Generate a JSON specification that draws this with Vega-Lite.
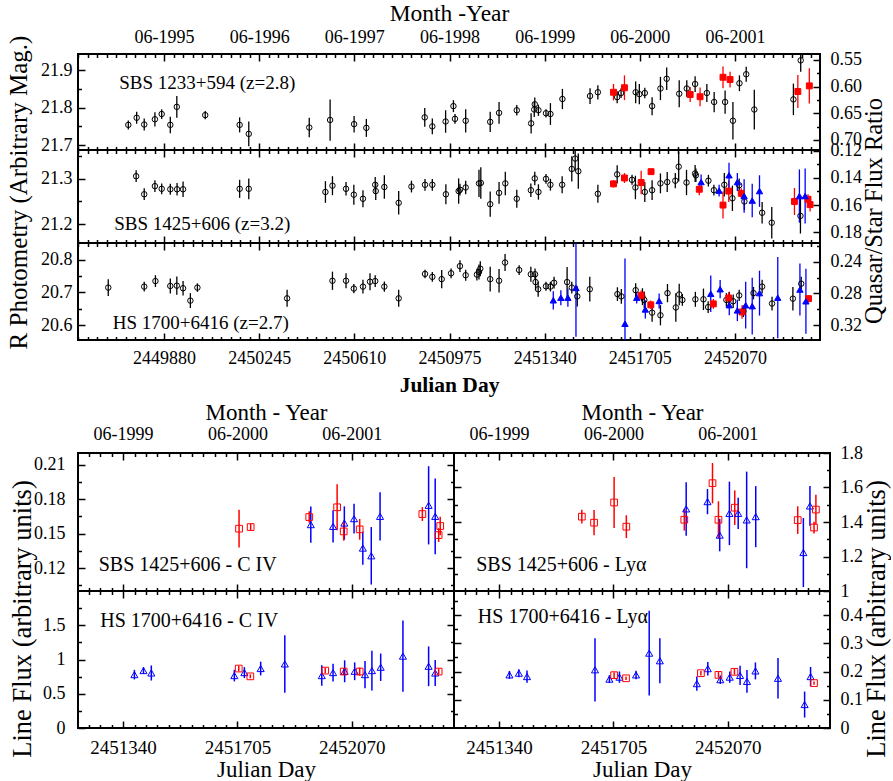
{
"$schema": "https://vega.github.io/schema/vega-lite/v6.json",
"padding": {"left": 5, "top": 0, "right": 0, "bottom": 0},
"datasets": {
"p1": [
{"j":2449743,"v":21.754,"e":0.012,"s":"K"},{"j":2449775,"v":21.773,"e":0.016,"s":"K"},{"j":2449804,"v":21.755,"e":0.016,"s":"K"},{"j":2449845,"v":21.769,"e":0.019,"s":"K"},{"j":2449871,"v":21.783,"e":0.013,"s":"K"},{"j":2449904,"v":21.754,"e":0.022,"s":"K"},{"j":2449929,"v":21.802,"e":0.029,"s":"K"},{"j":2450038,"v":21.780,"e":0.011,"s":"K"},{"j":2450170,"v":21.754,"e":0.02,"s":"K"},{"j":2450205,"v":21.730,"e":0.033,"s":"K"},{"j":2450437,"v":21.747,"e":0.026,"s":"K"},{"j":2450517,"v":21.767,"e":0.055,"s":"K"},{"j":2450609,"v":21.756,"e":0.022,"s":"K"},{"j":2450656,"v":21.746,"e":0.024,"s":"K"},{"j":2450880,"v":21.774,"e":0.025,"s":"K"},{"j":2450909,"v":21.750,"e":0.021,"s":"K"},{"j":2450960,"v":21.763,"e":0.03,"s":"K"},{"j":2450990,"v":21.804,"e":0.016,"s":"K"},{"j":2450996,"v":21.770,"e":0.013,"s":"K"},{"j":2451037,"v":21.765,"e":0.031,"s":"K"},{"j":2451131,"v":21.762,"e":0.027,"s":"K"},{"j":2451165,"v":21.786,"e":0.029,"s":"K"},{"j":2451233,"v":21.793,"e":0.014,"s":"K"},{"j":2451288,"v":21.758,"e":0.027,"s":"K"},{"j":2451302,"v":21.809,"e":0.018,"s":"K"},{"j":2451300,"v":21.795,"e":0.02,"s":"K"},{"j":2451316,"v":21.793,"e":0.015,"s":"K"},{"j":2451345,"v":21.785,"e":0.011,"s":"K"},{"j":2451362,"v":21.783,"e":0.029,"s":"K"},{"j":2451408,"v":21.823,"e":0.027,"s":"K"},{"j":2451514,"v":21.831,"e":0.021,"s":"K"},{"j":2451544,"v":21.841,"e":0.019,"s":"K"},{"j":2451618,"v":21.828,"e":0.016,"s":"K"},{"j":2451633,"v":21.839,"e":0.013,"s":"K"},{"j":2451689,"v":21.841,"e":0.029,"s":"K"},{"j":2451703,"v":21.836,"e":0.027,"s":"K"},{"j":2451724,"v":21.839,"e":0.014,"s":"K"},{"j":2451752,"v":21.804,"e":0.024,"s":"K"},{"j":2451784,"v":21.851,"e":0.031,"s":"K"},{"j":2451808,"v":21.877,"e":0.03,"s":"K"},{"j":2451856,"v":21.837,"e":0.036,"s":"K"},{"j":2451885,"v":21.851,"e":0.022,"s":"K"},{"j":2451917,"v":21.863,"e":0.021,"s":"K"},{"j":2451962,"v":21.839,"e":0.024,"s":"K"},{"j":2451990,"v":21.815,"e":0.027,"s":"K"},{"j":2452032,"v":21.815,"e":0.031,"s":"K"},{"j":2452062,"v":21.765,"e":0.05,"s":"K"},{"j":2452087,"v":21.865,"e":0.021,"s":"K"},{"j":2452113,"v":21.889,"e":0.02,"s":"K"},{"j":2452144,"v":21.795,"e":0.053,"s":"K"},{"j":2452294,"v":21.822,"e":0.042,"s":"K"},{"j":2452322,"v":21.926,"e":0.03,"s":"K"},
{"j":2451604,"v":21.841,"e":0.022,"s":"R"},{"j":2451646,"v":21.853,"e":0.033,"s":"R"},{"j":2451898,"v":21.835,"e":0.02,"s":"R"},{"j":2451936,"v":21.829,"e":0.025,"s":"R"},{"j":2452024,"v":21.881,"e":0.029,"s":"R"},{"j":2452051,"v":21.875,"e":0.021,"s":"R"},{"j":2452311,"v":21.843,"e":0.044,"s":"R"},{"j":2452355,"v":21.858,"e":0.047,"s":"R"}
],
"p2": [
{"j":2449773,"v":21.306,"e":0.013,"s":"K"},{"j":2449804,"v":21.266,"e":0.013,"s":"K"},{"j":2449845,"v":21.284,"e":0.013,"s":"K"},{"j":2449871,"v":21.278,"e":0.012,"s":"K"},{"j":2449904,"v":21.277,"e":0.012,"s":"K"},{"j":2449930,"v":21.277,"e":0.014,"s":"K"},{"j":2449953,"v":21.277,"e":0.017,"s":"K"},{"j":2450170,"v":21.278,"e":0.02,"s":"K"},{"j":2450205,"v":21.278,"e":0.023,"s":"K"},{"j":2450499,"v":21.271,"e":0.024,"s":"K"},{"j":2450526,"v":21.285,"e":0.021,"s":"K"},{"j":2450578,"v":21.278,"e":0.015,"s":"K"},{"j":2450608,"v":21.265,"e":0.022,"s":"K"},{"j":2450643,"v":21.256,"e":0.019,"s":"K"},{"j":2450690,"v":21.287,"e":0.017,"s":"K"},{"j":2450692,"v":21.273,"e":0.02,"s":"K"},{"j":2450725,"v":21.282,"e":0.026,"s":"K"},{"j":2450780,"v":21.247,"e":0.026,"s":"K"},{"j":2450829,"v":21.283,"e":0.013,"s":"K"},{"j":2450881,"v":21.287,"e":0.013,"s":"K"},{"j":2450909,"v":21.287,"e":0.013,"s":"K"},{"j":2450961,"v":21.266,"e":0.022,"s":"K"},{"j":2451010,"v":21.273,"e":0.028,"s":"K"},{"j":2451015,"v":21.276,"e":0.013,"s":"K"},{"j":2451037,"v":21.281,"e":0.015,"s":"K"},{"j":2451088,"v":21.290,"e":0.03,"s":"K"},{"j":2451095,"v":21.291,"e":0.035,"s":"K"},{"j":2451131,"v":21.244,"e":0.028,"s":"K"},{"j":2451165,"v":21.269,"e":0.024,"s":"K"},{"j":2451189,"v":21.290,"e":0.026,"s":"K"},{"j":2451233,"v":21.256,"e":0.02,"s":"K"},{"j":2451287,"v":21.275,"e":0.015,"s":"K"},{"j":2451302,"v":21.301,"e":0.015,"s":"K"},{"j":2451316,"v":21.271,"e":0.017,"s":"K"},{"j":2451345,"v":21.300,"e":0.011,"s":"K"},{"j":2451362,"v":21.287,"e":0.013,"s":"K"},{"j":2451407,"v":21.287,"e":0.019,"s":"K"},{"j":2451444,"v":21.322,"e":0.028,"s":"K"},{"j":2451457,"v":21.345,"e":0.028,"s":"K"},{"j":2451469,"v":21.317,"e":0.039,"s":"K"},{"j":2451544,"v":21.267,"e":0.02,"s":"K"},{"j":2451618,"v":21.310,"e":0.02,"s":"K"},{"j":2451675,"v":21.298,"e":0.011,"s":"K"},{"j":2451688,"v":21.281,"e":0.026,"s":"K"},{"j":2451724,"v":21.271,"e":0.022,"s":"K"},{"j":2451752,"v":21.275,"e":0.022,"s":"K"},{"j":2451784,"v":21.290,"e":0.022,"s":"K"},{"j":2451810,"v":21.293,"e":0.022,"s":"K"},{"j":2451841,"v":21.296,"e":0.017,"s":"K"},{"j":2451854,"v":21.327,"e":0.033,"s":"K"},{"j":2451884,"v":21.292,"e":0.028,"s":"K"},{"j":2451917,"v":21.312,"e":0.019,"s":"K"},{"j":2451920,"v":21.308,"e":0.015,"s":"K"},{"j":2451968,"v":21.296,"e":0.013,"s":"K"},{"j":2451989,"v":21.275,"e":0.012,"s":"K"},{"j":2452029,"v":21.287,"e":0.026,"s":"K"},{"j":2452060,"v":21.257,"e":0.028,"s":"K"},{"j":2452086,"v":21.286,"e":0.015,"s":"K"},{"j":2452106,"v":21.250,"e":0.019,"s":"K"},{"j":2452174,"v":21.225,"e":0.024,"s":"K"},{"j":2452211,"v":21.203,"e":0.035,"s":"K"},{"j":2452321,"v":21.218,"e":0.039,"s":"K"},
{"j":2451604,"v":21.289,"e":0.008,"s":"R"},{"j":2451646,"v":21.302,"e":0.011,"s":"R"},{"j":2451710,"v":21.292,"e":0.026,"s":"R"},{"j":2451748,"v":21.316,"e":0.006,"s":"R"},{"j":2451933,"v":21.277,"e":0.013,"s":"R"},{"j":2452024,"v":21.242,"e":0.03,"s":"R"},{"j":2452046,"v":21.273,"e":0.024,"s":"R"},{"j":2452094,"v":21.268,"e":0.011,"s":"R"},{"j":2452298,"v":21.250,"e":0.03,"s":"R"},{"j":2452350,"v":21.255,"e":0.011,"s":"R"},{"j":2452358,"v":21.243,"e":0.015,"s":"R"},
{"j":2451940,"v":21.293,"e":0.017,"s":"B"},{"j":2452009,"v":21.274,"e":0.013,"s":"B"},{"j":2452047,"v":21.308,"e":0.028,"s":"B"},{"j":2452079,"v":21.293,"e":0.02,"s":"B"},{"j":2452105,"v":21.262,"e":0.037,"s":"B"},{"j":2452136,"v":21.252,"e":0.037,"s":"B"},{"j":2452164,"v":21.273,"e":0.035,"s":"B"},{"j":2452317,"v":21.262,"e":0.059,"s":"B"},{"j":2452339,"v":21.262,"e":0.061,"s":"B"}
],
"p3": [
{"j":2449666,"v":20.715,"e":0.026,"s":"K"},{"j":2449804,"v":20.718,"e":0.015,"s":"K"},{"j":2449847,"v":20.735,"e":0.018,"s":"K"},{"j":2449904,"v":20.720,"e":0.023,"s":"K"},{"j":2449929,"v":20.721,"e":0.028,"s":"K"},{"j":2449953,"v":20.713,"e":0.022,"s":"K"},{"j":2449981,"v":20.675,"e":0.023,"s":"K"},{"j":2450008,"v":20.715,"e":0.013,"s":"K"},{"j":2450352,"v":20.682,"e":0.026,"s":"K"},{"j":2450526,"v":20.736,"e":0.028,"s":"K"},{"j":2450578,"v":20.736,"e":0.023,"s":"K"},{"j":2450608,"v":20.712,"e":0.014,"s":"K"},{"j":2450643,"v":20.718,"e":0.021,"s":"K"},{"j":2450670,"v":20.733,"e":0.026,"s":"K"},{"j":2450690,"v":20.735,"e":0.018,"s":"K"},{"j":2450725,"v":20.718,"e":0.016,"s":"K"},{"j":2450780,"v":20.682,"e":0.026,"s":"K"},{"j":2450881,"v":20.757,"e":0.013,"s":"K"},{"j":2450909,"v":20.748,"e":0.015,"s":"K"},{"j":2450945,"v":20.741,"e":0.028,"s":"K"},{"j":2450981,"v":20.759,"e":0.015,"s":"K"},{"j":2451015,"v":20.781,"e":0.018,"s":"K"},{"j":2451037,"v":20.753,"e":0.017,"s":"K"},{"j":2451080,"v":20.755,"e":0.018,"s":"K"},{"j":2451088,"v":20.763,"e":0.023,"s":"K"},{"j":2451093,"v":20.773,"e":0.023,"s":"K"},{"j":2451131,"v":20.741,"e":0.038,"s":"K"},{"j":2451165,"v":20.736,"e":0.036,"s":"K"},{"j":2451188,"v":20.792,"e":0.026,"s":"K"},{"j":2451242,"v":20.769,"e":0.015,"s":"K"},{"j":2451287,"v":20.756,"e":0.023,"s":"K"},{"j":2451303,"v":20.756,"e":0.018,"s":"K"},{"j":2451305,"v":20.732,"e":0.026,"s":"K"},{"j":2451315,"v":20.710,"e":0.023,"s":"K"},{"j":2451345,"v":20.719,"e":0.014,"s":"K"},{"j":2451362,"v":20.718,"e":0.015,"s":"K"},{"j":2451376,"v":20.730,"e":0.018,"s":"K"},{"j":2451426,"v":20.732,"e":0.046,"s":"K"},{"j":2451444,"v":20.715,"e":0.018,"s":"K"},{"j":2451465,"v":20.688,"e":0.031,"s":"K"},{"j":2451513,"v":20.710,"e":0.038,"s":"K"},{"j":2451619,"v":20.695,"e":0.021,"s":"K"},{"j":2451634,"v":20.688,"e":0.023,"s":"K"},{"j":2451689,"v":20.707,"e":0.021,"s":"K"},{"j":2451715,"v":20.687,"e":0.026,"s":"K"},{"j":2451722,"v":20.677,"e":0.026,"s":"K"},{"j":2451752,"v":20.638,"e":0.028,"s":"K"},{"j":2451784,"v":20.630,"e":0.031,"s":"K"},{"j":2451811,"v":20.698,"e":0.028,"s":"K"},{"j":2451843,"v":20.654,"e":0.044,"s":"K"},{"j":2451856,"v":20.694,"e":0.033,"s":"K"},{"j":2451868,"v":20.677,"e":0.018,"s":"K"},{"j":2451918,"v":20.679,"e":0.023,"s":"K"},{"j":2451949,"v":20.679,"e":0.033,"s":"K"},{"j":2451967,"v":20.655,"e":0.018,"s":"K"},{"j":2452037,"v":20.677,"e":0.021,"s":"K"},{"j":2452048,"v":20.681,"e":0.021,"s":"K"},{"j":2452063,"v":20.673,"e":0.021,"s":"K"},{"j":2452086,"v":20.691,"e":0.017,"s":"K"},{"j":2452102,"v":20.643,"e":0.018,"s":"K"},{"j":2452141,"v":20.698,"e":0.019,"s":"K"},{"j":2452174,"v":20.718,"e":0.021,"s":"K"},{"j":2452212,"v":20.666,"e":0.021,"s":"K"},{"j":2452292,"v":20.681,"e":0.036,"s":"K"},{"j":2452324,"v":20.727,"e":0.021,"s":"K"},
{"j":2451710,"v":20.691,"e":0.015,"s":"R"},{"j":2451747,"v":20.662,"e":0.013,"s":"R"},{"j":2451987,"v":20.665,"e":0.015,"s":"R"},{"j":2452046,"v":20.683,"e":0.018,"s":"R"},{"j":2452097,"v":20.640,"e":0.021,"s":"R"},{"j":2452352,"v":20.681,"e":0.01,"s":"R"},
{"j":2451373,"v":20.676,"e":0.028,"s":"B"},{"j":2451402,"v":20.684,"e":0.023,"s":"B"},{"j":2451429,"v":20.684,"e":0.028,"s":"B"},{"j":2451460,"v":20.714,"e":0.15,"s":"B"},{"j":2451648,"v":20.604,"e":0.2,"s":"B"},{"j":2451693,"v":20.684,"e":0.018,"s":"B"},{"j":2451726,"v":20.648,"e":0.028,"s":"B"},{"j":2451779,"v":20.674,"e":0.023,"s":"B"},{"j":2451977,"v":20.696,"e":0.056,"s":"B"},{"j":2452013,"v":20.710,"e":0.028,"s":"B"},{"j":2452048,"v":20.661,"e":0.031,"s":"B"},{"j":2452079,"v":20.645,"e":0.033,"s":"B"},{"j":2452111,"v":20.661,"e":0.072,"s":"B"},{"j":2452136,"v":20.658,"e":0.087,"s":"B"},{"j":2452164,"v":20.698,"e":0.069,"s":"B"},{"j":2452234,"v":20.684,"e":0.125,"s":"B"},{"j":2452319,"v":20.709,"e":0.08,"s":"B"},{"j":2452342,"v":20.673,"e":0.1,"s":"B"}
],
"c1": [
{"j":2451939,"v":0.1577,"e":0.0157,"s":"b"},{"j":2452010,"v":0.1562,"e":0.014,"s":"b"},{"j":2452046,"v":0.1591,"e":0.0145,"s":"b"},{"j":2452077,"v":0.1629,"e":0.013,"s":"b"},{"j":2452105,"v":0.1373,"e":0.0145,"s":"b"},{"j":2452132,"v":0.1306,"e":0.025,"s":"b"},{"j":2452160,"v":0.1649,"e":0.021,"s":"b"},{"j":2452315,"v":0.1745,"e":0.034,"s":"b"},{"j":2452336,"v":0.1649,"e":0.033,"s":"b"},
{"j":2451710,"v":0.1542,"e":0.0164,"s":"r"},{"j":2451747,"v":0.1556,"e":0.003,"s":"r"},{"j":2451934,"v":0.1643,"e":0.005,"s":"r"},{"j":2452023,"v":0.1728,"e":0.02,"s":"r"},{"j":2452044,"v":0.1518,"e":0.008,"s":"r"},{"j":2452095,"v":0.1536,"e":0.009,"s":"r"},{"j":2452295,"v":0.1669,"e":0.006,"s":"r"},{"j":2452347,"v":0.1486,"e":0.006,"s":"r"},{"j":2452352,"v":0.1565,"e":0.008,"s":"r"}
],
"c2": [
{"j":2451376,"v":0.779,"e":0.07,"s":"b"},{"j":2451405,"v":0.838,"e":0.05,"s":"b"},{"j":2451430,"v":0.803,"e":0.11,"s":"b"},{"j":2451695,"v":0.765,"e":0.085,"s":"b"},{"j":2451727,"v":0.809,"e":0.08,"s":"b"},{"j":2451779,"v":0.868,"e":0.1,"s":"b"},{"j":2451856,"v":0.935,"e":0.42,"s":"b"},{"j":2451974,"v":0.765,"e":0.15,"s":"b"},{"j":2452010,"v":0.809,"e":0.13,"s":"b"},{"j":2452047,"v":0.828,"e":0.16,"s":"b"},{"j":2452079,"v":0.828,"e":0.13,"s":"b"},{"j":2452112,"v":0.779,"e":0.2,"s":"b"},{"j":2452134,"v":0.838,"e":0.29,"s":"b"},{"j":2452162,"v":0.887,"e":0.2,"s":"b"},{"j":2452233,"v":1.049,"e":0.52,"s":"b"},{"j":2452315,"v":0.901,"e":0.29,"s":"b"},{"j":2452336,"v":0.803,"e":0.19,"s":"b"},
{"j":2451709,"v":0.868,"e":0.04,"s":"r"},{"j":2451746,"v":0.754,"e":0.03,"s":"r"},{"j":2451985,"v":0.838,"e":0.04,"s":"r"},{"j":2452044,"v":0.824,"e":0.05,"s":"r"},{"j":2452095,"v":0.824,"e":0.06,"s":"r"},{"j":2452347,"v":0.824,"e":0.04,"s":"r"}
],
"l1": [
{"j":2451937,"v":1.476,"e":0.155,"s":"b"},{"j":2452005,"v":1.518,"e":0.073,"s":"b"},{"j":2452044,"v":1.324,"e":0.094,"s":"b"},{"j":2452075,"v":1.450,"e":0.184,"s":"b"},{"j":2452103,"v":1.450,"e":0.09,"s":"b"},{"j":2452130,"v":1.412,"e":0.28,"s":"b"},{"j":2452159,"v":1.431,"e":0.177,"s":"b"},{"j":2452311,"v":1.223,"e":0.2,"s":"b"},{"j":2452332,"v":1.493,"e":0.115,"s":"b"},
{"j":2451604,"v":1.431,"e":0.04,"s":"r"},{"j":2451643,"v":1.396,"e":0.073,"s":"r"},{"j":2451707,"v":1.513,"e":0.148,"s":"r"},{"j":2451746,"v":1.373,"e":0.066,"s":"r"},{"j":2451931,"v":1.413,"e":0.063,"s":"r"},{"j":2452021,"v":1.625,"e":0.117,"s":"r"},{"j":2452040,"v":1.413,"e":0.107,"s":"r"},{"j":2452092,"v":1.483,"e":0.1,"s":"r"},{"j":2452293,"v":1.411,"e":0.08,"s":"r"},{"j":2452345,"v":1.368,"e":0.034,"s":"r"},{"j":2452351,"v":1.472,"e":0.086,"s":"r"}
],
"l2": [
{"j":2451373,"v":0.188,"e":0.014,"s":"b"},{"j":2451403,"v":0.194,"e":0.014,"s":"b"},{"j":2451429,"v":0.182,"e":0.022,"s":"b"},{"j":2451646,"v":0.206,"e":0.112,"s":"b"},{"j":2451692,"v":0.173,"e":0.014,"s":"b"},{"j":2451724,"v":0.180,"e":0.02,"s":"b"},{"j":2451777,"v":0.188,"e":0.015,"s":"b"},{"j":2451819,"v":0.265,"e":0.15,"s":"b"},{"j":2451853,"v":0.238,"e":0.08,"s":"b"},{"j":2451971,"v":0.157,"e":0.025,"s":"b"},{"j":2452006,"v":0.210,"e":0.024,"s":"b"},{"j":2452046,"v":0.171,"e":0.015,"s":"b"},{"j":2452076,"v":0.180,"e":0.02,"s":"b"},{"j":2452109,"v":0.186,"e":0.034,"s":"b"},{"j":2452131,"v":0.165,"e":0.04,"s":"b"},{"j":2452158,"v":0.202,"e":0.03,"s":"b"},{"j":2452230,"v":0.176,"e":0.072,"s":"b"},{"j":2452315,"v":0.083,"e":0.046,"s":"b"},{"j":2452334,"v":0.182,"e":0.034,"s":"b"},
{"j":2451707,"v":0.187,"e":0.01,"s":"r"},{"j":2451745,"v":0.176,"e":0.006,"s":"r"},{"j":2451984,"v":0.194,"e":0.008,"s":"r"},{"j":2452040,"v":0.188,"e":0.01,"s":"r"},{"j":2452091,"v":0.199,"e":0.01,"s":"r"},{"j":2452345,"v":0.159,"e":0.006,"s":"r"}
]
},
"spacing": 3,
"resolve": {"scale": {"x": "independent", "y": "independent"}},
"vconcat": [
{
"vconcat": [
{
"width": 742, "height": 96, "data": {"name": "p1"},
"resolve": {"scale": {"x": "independent", "y": "independent"}},
"layer": [
{"mark": {"type": "errorbar", "ticks": false, "thickness": 1.3},
 "encoding": {"x": {"field": "j", "type": "quantitative", "scale": {"domain": [2449550, 2452396], "nice": false}, "axis": null},
  "y": {"field": "v", "type": "quantitative", "scale": {"domain": [21.687, 21.943], "nice": false, "clamp": true}, "axis": null},
  "yError": {"field": "e"},
  "color": {"field": "s", "type": "nominal", "scale": {"domain": ["K","R","B","r","b"], "range": ["#000000","#ff0000","#0000ff","#ff0000","#0000ff"]}, "legend": null}}},
{"mark": {"type": "point", "filled": true, "opacity": 1},
 "encoding": {"x": {"field": "j", "type": "quantitative", "scale": {"domain": [2449550, 2452396], "nice": false}, "axis": null},
  "y": {"field": "v", "type": "quantitative", "scale": {"domain": [21.687, 21.943], "nice": false, "clamp": true}, "axis": null},
  "shape": {"field": "s", "type": "nominal", "scale": {"domain": ["K","R","B","r","b"], "range": ["circle","square","triangle-up","square","triangle-up"]}, "legend": null},
  "fill": {"field": "s", "type": "nominal", "scale": {"domain": ["K","R","B","r","b"], "range": ["transparent","#ff0000","#0000ff","transparent","transparent"]}, "legend": null},
  "stroke": {"field": "s", "type": "nominal", "scale": {"domain": ["K","R","B","r","b"], "range": ["#000000","#ff0000","#0000ff","#ff0000","#0000ff"]}, "legend": null},
  "size": {"field": "s", "type": "nominal", "scale": {"domain": ["K","R","B","r","b"], "range": [30,50,60,28,45]}, "legend": null},
  "strokeWidth": {"field": "s", "type": "nominal", "scale": {"domain": ["K","R","B","r","b"], "range": [1,1,1,1.5,1.5]}, "legend": null}}},
{"data": {"values": [{}]}, "mark": {"type": "text", "align": "left", "baseline": "middle", "fontSize": 19, "font": "Liberation Serif", "color": "#000000", "text": "SBS 1233+594 (z=2.8)"},
 "encoding": {"x": {"datum": 2449708, "type": "quantitative", "scale": {"domain": [2449550, 2452396], "nice": false}, "axis": null},
  "y": {"datum": 21.865, "type": "quantitative", "scale": {"domain": [21.687, 21.943], "nice": false}, "axis": null}}},
{"data": {"values": [{}]}, "mark": {"type": "point", "opacity": 0},
 "encoding": {"x": {"datum": 2450000, "type": "quantitative", "scale": {"domain": [2449550, 2452396], "nice": false}, "axis": {"orient": "bottom", "values": [2449880,2450245,2450610,2450975,2451340,2451705,2452070], "tickSize": -7, "labels": false, "title": null}},
  "y": {"datum": 21.8, "type": "quantitative", "scale": {"domain": [21.687, 21.943], "nice": false}, "axis": {"orient": "left", "values": [21.7,21.8,21.9], "tickSize": -7, "labelPadding": 13, "format": ".1f", "title": null}}}},
{"data": {"values": [{}]}, "mark": {"type": "point", "opacity": 0},
 "encoding": {"x": {"datum": 2450000, "type": "quantitative", "scale": {"domain": [2449550, 2452396], "nice": false}, "axis": {"orient": "bottom", "values": [2449551.5,2449588,2449624.5,2449661,2449697.5,2449734,2449770.5,2449807,2449843.5,2449916.5,2449953,2449989.5,2450026,2450062.5,2450099,2450135.5,2450172,2450208.5,2450281.5,2450318,2450354.5,2450391,2450427.5,2450464,2450500.5,2450537,2450573.5,2450646.5,2450683,2450719.5,2450756,2450792.5,2450829,2450865.5,2450902,2450938.5,2451011.5,2451048,2451084.5,2451121,2451157.5,2451194,2451230.5,2451267,2451303.5,2451376.5,2451413,2451449.5,2451486,2451522.5,2451559,2451595.5,2451632,2451668.5,2451741.5,2451778,2451814.5,2451851,2451887.5,2451924,2451960.5,2451997,2452033.5,2452106.5,2452143,2452179.5,2452216,2452252.5,2452289,2452325.5,2452362], "tickSize": -3.5, "labels": false, "title": null}},
  "y": {"datum": 21.8, "type": "quantitative", "scale": {"domain": [21.687, 21.943], "nice": false}, "axis": {"orient": "left", "values": [21.75,21.85], "tickSize": -3.5, "labels": false, "title": null}}}},
{"data": {"values": [{}]}, "mark": {"type": "point", "opacity": 0},
 "encoding": {"x": {"datum": 2450000, "type": "quantitative", "scale": {"domain": [2449550, 2452396], "nice": false}, "axis": {"orient": "top", "values": [2449880,2450245,2450610,2450975,2451340,2451705,2452070], "tickSize": -7, "labelPadding": 15, "labelExpr": "'06-' + (1995 + round((datum.value - 2449880) / 365))", "title": "Month -Year", "titleFontSize": 23.5, "titlePadding": 3}},
  "y": {"datum": 0.6, "type": "quantitative", "scale": {"domain": [0.5389, 0.7188], "nice": false, "reverse": true}, "axis": {"orient": "right", "values": [0.55,0.6,0.65,0.7], "tickSize": -7, "labelPadding": 17, "format": ".2f", "title": null}}}},
{"data": {"values": [{}]}, "mark": {"type": "point", "opacity": 0},
 "encoding": {"x": {"datum": 2450000, "type": "quantitative", "scale": {"domain": [2449550, 2452396], "nice": false}, "axis": {"orient": "top", "values": [2449551.5,2449588,2449624.5,2449661,2449697.5,2449734,2449770.5,2449807,2449843.5,2449916.5,2449953,2449989.5,2450026,2450062.5,2450099,2450135.5,2450172,2450208.5,2450281.5,2450318,2450354.5,2450391,2450427.5,2450464,2450500.5,2450537,2450573.5,2450646.5,2450683,2450719.5,2450756,2450792.5,2450829,2450865.5,2450902,2450938.5,2451011.5,2451048,2451084.5,2451121,2451157.5,2451194,2451230.5,2451267,2451303.5,2451376.5,2451413,2451449.5,2451486,2451522.5,2451559,2451595.5,2451632,2451668.5,2451741.5,2451778,2451814.5,2451851,2451887.5,2451924,2451960.5,2451997,2452033.5,2452106.5,2452143,2452179.5,2452216,2452252.5,2452289,2452325.5,2452362], "tickSize": -3.5, "labels": false, "title": null}},
  "y": {"datum": 0.6, "type": "quantitative", "scale": {"domain": [0.5389, 0.7188], "nice": false, "reverse": true}, "axis": {"orient": "right", "values": [0.575,0.625,0.675], "tickSize": -3.5, "labels": false, "title": null}}}}
]
},
{
"width": 742, "height": 93, "data": {"name": "p2"},
"resolve": {"scale": {"x": "independent", "y": "independent"}},
"layer": [
{"mark": {"type": "errorbar", "ticks": false, "thickness": 1.3},
 "encoding": {"x": {"field": "j", "type": "quantitative", "scale": {"domain": [2449550, 2452396], "nice": false}, "axis": null},
  "y": {"field": "v", "type": "quantitative", "scale": {"domain": [21.158, 21.364], "nice": false, "clamp": true}, "axis": null},
  "yError": {"field": "e"},
  "color": {"field": "s", "type": "nominal", "scale": {"domain": ["K","R","B","r","b"], "range": ["#000000","#ff0000","#0000ff","#ff0000","#0000ff"]}, "legend": null}}},
{"mark": {"type": "point", "filled": true, "opacity": 1},
 "encoding": {"x": {"field": "j", "type": "quantitative", "scale": {"domain": [2449550, 2452396], "nice": false}, "axis": null},
  "y": {"field": "v", "type": "quantitative", "scale": {"domain": [21.158, 21.364], "nice": false, "clamp": true}, "axis": null},
  "shape": {"field": "s", "type": "nominal", "scale": {"domain": ["K","R","B","r","b"], "range": ["circle","square","triangle-up","square","triangle-up"]}, "legend": null},
  "fill": {"field": "s", "type": "nominal", "scale": {"domain": ["K","R","B","r","b"], "range": ["transparent","#ff0000","#0000ff","transparent","transparent"]}, "legend": null},
  "stroke": {"field": "s", "type": "nominal", "scale": {"domain": ["K","R","B","r","b"], "range": ["#000000","#ff0000","#0000ff","#ff0000","#0000ff"]}, "legend": null},
  "size": {"field": "s", "type": "nominal", "scale": {"domain": ["K","R","B","r","b"], "range": [30,50,60,28,45]}, "legend": null},
  "strokeWidth": {"field": "s", "type": "nominal", "scale": {"domain": ["K","R","B","r","b"], "range": [1,1,1,1.5,1.5]}, "legend": null}}},
{"data": {"values": [{}]}, "mark": {"type": "text", "align": "left", "baseline": "middle", "fontSize": 19, "font": "Liberation Serif", "color": "#000000", "text": "SBS 1425+606 (z=3.2)"},
 "encoding": {"x": {"datum": 2449689, "type": "quantitative", "scale": {"domain": [2449550, 2452396], "nice": false}, "axis": null},
  "y": {"datum": 21.2, "type": "quantitative", "scale": {"domain": [21.158, 21.364], "nice": false}, "axis": null}}},
{"data": {"values": [{}]}, "mark": {"type": "point", "opacity": 0},
 "encoding": {"x": {"datum": 2450000, "type": "quantitative", "scale": {"domain": [2449550, 2452396], "nice": false}, "axis": {"orient": "bottom", "values": [2449880,2450245,2450610,2450975,2451340,2451705,2452070], "tickSize": -7, "labels": false, "title": null}},
  "y": {"datum": 21.3, "type": "quantitative", "scale": {"domain": [21.158, 21.364], "nice": false}, "axis": {"orient": "left", "values": [21.2,21.3], "tickSize": -7, "labelPadding": 13, "format": ".1f", "title": "R Photometry (Arbitrary Mag.)", "titleFontSize": 25, "titlePadding": 9, "titleY": 42}}}},
{"data": {"values": [{}]}, "mark": {"type": "point", "opacity": 0},
 "encoding": {"x": {"datum": 2450000, "type": "quantitative", "scale": {"domain": [2449550, 2452396], "nice": false}, "axis": {"orient": "bottom", "values": [2449551.5,2449588,2449624.5,2449661,2449697.5,2449734,2449770.5,2449807,2449843.5,2449916.5,2449953,2449989.5,2450026,2450062.5,2450099,2450135.5,2450172,2450208.5,2450281.5,2450318,2450354.5,2450391,2450427.5,2450464,2450500.5,2450537,2450573.5,2450646.5,2450683,2450719.5,2450756,2450792.5,2450829,2450865.5,2450902,2450938.5,2451011.5,2451048,2451084.5,2451121,2451157.5,2451194,2451230.5,2451267,2451303.5,2451376.5,2451413,2451449.5,2451486,2451522.5,2451559,2451595.5,2451632,2451668.5,2451741.5,2451778,2451814.5,2451851,2451887.5,2451924,2451960.5,2451997,2452033.5,2452106.5,2452143,2452179.5,2452216,2452252.5,2452289,2452325.5,2452362], "tickSize": -3.5, "labels": false, "title": null}},
  "y": {"datum": 21.3, "type": "quantitative", "scale": {"domain": [21.158, 21.364], "nice": false}, "axis": {"orient": "left", "values": [21.25,21.35], "tickSize": -3.5, "labels": false, "title": null}}}},
{"data": {"values": [{}]}, "mark": {"type": "point", "opacity": 0},
 "encoding": {"x": {"datum": 2450000, "type": "quantitative", "scale": {"domain": [2449550, 2452396], "nice": false}, "axis": {"orient": "top", "values": [2449880,2450245,2450610,2450975,2451340,2451705,2452070], "tickSize": -7, "labels": false, "title": null}},
  "y": {"datum": 0.15, "type": "quantitative", "scale": {"domain": [0.1193, 0.1881], "nice": false, "reverse": true}, "axis": {"orient": "right", "values": [0.12,0.14,0.16,0.18], "tickSize": -7, "labelPadding": 17, "format": ".2f", "title": "Quasar/Star Flux Ratio", "titleFontSize": 24.5, "titleAngle": 270, "titleBaseline": "top", "titlePadding": 1, "titleY": 60.5}}}},
{"data": {"values": [{}]}, "mark": {"type": "point", "opacity": 0},
 "encoding": {"x": {"datum": 2450000, "type": "quantitative", "scale": {"domain": [2449550, 2452396], "nice": false}, "axis": {"orient": "top", "values": [2449551.5,2449588,2449624.5,2449661,2449697.5,2449734,2449770.5,2449807,2449843.5,2449916.5,2449953,2449989.5,2450026,2450062.5,2450099,2450135.5,2450172,2450208.5,2450281.5,2450318,2450354.5,2450391,2450427.5,2450464,2450500.5,2450537,2450573.5,2450646.5,2450683,2450719.5,2450756,2450792.5,2450829,2450865.5,2450902,2450938.5,2451011.5,2451048,2451084.5,2451121,2451157.5,2451194,2451230.5,2451267,2451303.5,2451376.5,2451413,2451449.5,2451486,2451522.5,2451559,2451595.5,2451632,2451668.5,2451741.5,2451778,2451814.5,2451851,2451887.5,2451924,2451960.5,2451997,2452033.5,2452106.5,2452143,2452179.5,2452216,2452252.5,2452289,2452325.5,2452362], "tickSize": -3.5, "labels": false, "title": null}},
  "y": {"datum": 0.15, "type": "quantitative", "scale": {"domain": [0.1193, 0.1881], "nice": false, "reverse": true}, "axis": {"orient": "right", "values": [0.13,0.15,0.17], "tickSize": -3.5, "labels": false, "title": null}}}}
]
},
{
"width": 742, "height": 97, "data": {"name": "p3"},
"resolve": {"scale": {"x": "independent", "y": "independent"}},
"layer": [
{"mark": {"type": "errorbar", "ticks": false, "thickness": 1.3},
 "encoding": {"x": {"field": "j", "type": "quantitative", "scale": {"domain": [2449550, 2452396], "nice": false}, "axis": null},
  "y": {"field": "v", "type": "quantitative", "scale": {"domain": [20.554, 20.852], "nice": false, "clamp": true}, "axis": null},
  "yError": {"field": "e"},
  "color": {"field": "s", "type": "nominal", "scale": {"domain": ["K","R","B","r","b"], "range": ["#000000","#ff0000","#0000ff","#ff0000","#0000ff"]}, "legend": null}}},
{"mark": {"type": "point", "filled": true, "opacity": 1},
 "encoding": {"x": {"field": "j", "type": "quantitative", "scale": {"domain": [2449550, 2452396], "nice": false}, "axis": null},
  "y": {"field": "v", "type": "quantitative", "scale": {"domain": [20.554, 20.852], "nice": false, "clamp": true}, "axis": null},
  "shape": {"field": "s", "type": "nominal", "scale": {"domain": ["K","R","B","r","b"], "range": ["circle","square","triangle-up","square","triangle-up"]}, "legend": null},
  "fill": {"field": "s", "type": "nominal", "scale": {"domain": ["K","R","B","r","b"], "range": ["transparent","#ff0000","#0000ff","transparent","transparent"]}, "legend": null},
  "stroke": {"field": "s", "type": "nominal", "scale": {"domain": ["K","R","B","r","b"], "range": ["#000000","#ff0000","#0000ff","#ff0000","#0000ff"]}, "legend": null},
  "size": {"field": "s", "type": "nominal", "scale": {"domain": ["K","R","B","r","b"], "range": [30,50,60,28,45]}, "legend": null},
  "strokeWidth": {"field": "s", "type": "nominal", "scale": {"domain": ["K","R","B","r","b"], "range": [1,1,1,1.5,1.5]}, "legend": null}}},
{"data": {"values": [{}]}, "mark": {"type": "text", "align": "left", "baseline": "middle", "fontSize": 19, "font": "Liberation Serif", "color": "#000000", "text": "HS 1700+6416 (z=2.7)"},
 "encoding": {"x": {"datum": 2449683, "type": "quantitative", "scale": {"domain": [2449550, 2452396], "nice": false}, "axis": null},
  "y": {"datum": 20.605, "type": "quantitative", "scale": {"domain": [20.554, 20.852], "nice": false}, "axis": null}}},
{"data": {"values": [{}]}, "mark": {"type": "point", "opacity": 0},
 "encoding": {"x": {"datum": 2450000, "type": "quantitative", "scale": {"domain": [2449550, 2452396], "nice": false}, "axis": {"orient": "bottom", "values": [2449880,2450245,2450610,2450975,2451340,2451705,2452070], "tickSize": -7, "labelPadding": 16, "format": "d", "title": "Julian Day", "titleFontWeight": "bold", "titleFontSize": 21.5, "titlePadding": 7}},
  "y": {"datum": 20.7, "type": "quantitative", "scale": {"domain": [20.554, 20.852], "nice": false}, "axis": {"orient": "left", "values": [20.6,20.7,20.8], "tickSize": -7, "labelPadding": 13, "format": ".1f", "title": null}}}},
{"data": {"values": [{}]}, "mark": {"type": "point", "opacity": 0},
 "encoding": {"x": {"datum": 2450000, "type": "quantitative", "scale": {"domain": [2449550, 2452396], "nice": false}, "axis": {"orient": "bottom", "values": [2449551.5,2449588,2449624.5,2449661,2449697.5,2449734,2449770.5,2449807,2449843.5,2449916.5,2449953,2449989.5,2450026,2450062.5,2450099,2450135.5,2450172,2450208.5,2450281.5,2450318,2450354.5,2450391,2450427.5,2450464,2450500.5,2450537,2450573.5,2450646.5,2450683,2450719.5,2450756,2450792.5,2450829,2450865.5,2450902,2450938.5,2451011.5,2451048,2451084.5,2451121,2451157.5,2451194,2451230.5,2451267,2451303.5,2451376.5,2451413,2451449.5,2451486,2451522.5,2451559,2451595.5,2451632,2451668.5,2451741.5,2451778,2451814.5,2451851,2451887.5,2451924,2451960.5,2451997,2452033.5,2452106.5,2452143,2452179.5,2452216,2452252.5,2452289,2452325.5,2452362], "tickSize": -3.5, "labels": false, "title": null}},
  "y": {"datum": 20.7, "type": "quantitative", "scale": {"domain": [20.554, 20.852], "nice": false}, "axis": {"orient": "left", "values": [20.65,20.75], "tickSize": -3.5, "labels": false, "title": null}}}},
{"data": {"values": [{}]}, "mark": {"type": "point", "opacity": 0},
 "encoding": {"x": {"datum": 2450000, "type": "quantitative", "scale": {"domain": [2449550, 2452396], "nice": false}, "axis": {"orient": "top", "values": [2449880,2450245,2450610,2450975,2451340,2451705,2452070], "tickSize": -7, "labels": false, "title": null}},
  "y": {"datum": 0.28, "type": "quantitative", "scale": {"domain": [0.216, 0.339], "nice": false, "reverse": true}, "axis": {"orient": "right", "values": [0.24,0.28,0.32], "tickSize": -7, "labelPadding": 17, "format": ".2f", "title": null}}}},
{"data": {"values": [{}]}, "mark": {"type": "point", "opacity": 0},
 "encoding": {"x": {"datum": 2450000, "type": "quantitative", "scale": {"domain": [2449550, 2452396], "nice": false}, "axis": {"orient": "top", "values": [2449551.5,2449588,2449624.5,2449661,2449697.5,2449734,2449770.5,2449807,2449843.5,2449916.5,2449953,2449989.5,2450026,2450062.5,2450099,2450135.5,2450172,2450208.5,2450281.5,2450318,2450354.5,2450391,2450427.5,2450464,2450500.5,2450537,2450573.5,2450646.5,2450683,2450719.5,2450756,2450792.5,2450829,2450865.5,2450902,2450938.5,2451011.5,2451048,2451084.5,2451121,2451157.5,2451194,2451230.5,2451267,2451303.5,2451376.5,2451413,2451449.5,2451486,2451522.5,2451559,2451595.5,2451632,2451668.5,2451741.5,2451778,2451814.5,2451851,2451887.5,2451924,2451960.5,2451997,2452033.5,2452106.5,2452143,2452179.5,2452216,2452252.5,2452289,2452325.5,2452362], "tickSize": -3.5, "labels": false, "title": null}},
  "y": {"datum": 0.28, "type": "quantitative", "scale": {"domain": [0.216, 0.339], "nice": false, "reverse": true}, "axis": {"orient": "right", "values": [0.22,0.26,0.30], "tickSize": -3.5, "labels": false, "title": null}}}}
]
}
],
"spacing": 0, "bounds": "flush",
"resolve": {"scale": {"x": "independent", "y": "independent"}}
},
{
"concat": [
{
"width": 376, "height": 138, "data": {"name": "c1"},
"resolve": {"scale": {"x": "independent", "y": "independent"}},
"layer": [
{"mark": {"type": "errorbar", "ticks": false, "thickness": 1.5},
 "encoding": {"x": {"field": "j", "type": "quantitative", "scale": {"domain": [2451196, 2452396], "nice": false}, "axis": null},
  "y": {"field": "v", "type": "quantitative", "scale": {"domain": [0.10, 0.22], "nice": false, "clamp": true}, "axis": null},
  "yError": {"field": "e"},
  "color": {"field": "s", "type": "nominal", "scale": {"domain": ["K","R","B","r","b"], "range": ["#000000","#ff0000","#0000ff","#ff0000","#0000ff"]}, "legend": null}}},
{"mark": {"type": "point", "filled": true, "opacity": 1},
 "encoding": {"x": {"field": "j", "type": "quantitative", "scale": {"domain": [2451196, 2452396], "nice": false}, "axis": null},
  "y": {"field": "v", "type": "quantitative", "scale": {"domain": [0.10, 0.22], "nice": false, "clamp": true}, "axis": null},
  "shape": {"field": "s", "type": "nominal", "scale": {"domain": ["K","R","B","r","b"], "range": ["circle","square","triangle-up","square","triangle-up"]}, "legend": null},
  "fill": {"field": "s", "type": "nominal", "scale": {"domain": ["K","R","B","r","b"], "range": ["transparent","#ff0000","#0000ff","transparent","transparent"]}, "legend": null},
  "stroke": {"field": "s", "type": "nominal", "scale": {"domain": ["K","R","B","r","b"], "range": ["#000000","#ff0000","#0000ff","#ff0000","#0000ff"]}, "legend": null},
  "size": {"field": "s", "type": "nominal", "scale": {"domain": ["K","R","B","r","b"], "range": [30,50,60,28,45]}, "legend": null},
  "strokeWidth": {"field": "s", "type": "nominal", "scale": {"domain": ["K","R","B","r","b"], "range": [1,1,1,1.5,1.5]}, "legend": null}}},
{"data": {"values": [{}]}, "mark": {"type": "text", "align": "left", "baseline": "middle", "fontSize": 20, "font": "Liberation Serif", "color": "#000000", "text": "SBS 1425+606 - C IV"},
 "encoding": {"x": {"datum": 2451262, "type": "quantitative", "scale": {"domain": [2451196, 2452396], "nice": false}, "axis": null},
  "y": {"datum": 0.1225, "type": "quantitative", "scale": {"domain": [0.10, 0.22], "nice": false}, "axis": null}}},
{"data": {"values": [{}]}, "mark": {"type": "point", "opacity": 0},
 "encoding": {"x": {"datum": 2451700, "type": "quantitative", "scale": {"domain": [2451196, 2452396], "nice": false}, "axis": {"orient": "top", "values": [2451340,2451705,2452070], "tickSize": -7, "labelPadding": 17, "labelExpr": "'06-' + (1995 + round((datum.value - 2449880) / 365))", "title": "Month - Year", "titleFontSize": 23, "titlePadding": 1}},
  "y": {"datum": 0.15, "type": "quantitative", "scale": {"domain": [0.10, 0.22], "nice": false}, "axis": {"orient": "left", "values": [0.12,0.15,0.18,0.21], "tickSize": -7, "labelPadding": 20, "format": ".2f", "title": null}}}},
{"data": {"values": [{}]}, "mark": {"type": "point", "opacity": 0},
 "encoding": {"x": {"datum": 2451700, "type": "quantitative", "scale": {"domain": [2451196, 2452396], "nice": false}, "axis": {"orient": "top", "values": [2451230.5,2451267,2451303.5,2451376.5,2451413,2451449.5,2451486,2451522.5,2451559,2451595.5,2451632,2451668.5,2451741.5,2451778,2451814.5,2451851,2451887.5,2451924,2451960.5,2451997,2452033.5,2452106.5,2452143,2452179.5,2452216,2452252.5,2452289,2452325.5,2452362], "tickSize": -3.5, "labels": false, "title": null}},
  "y": {"datum": 0.15, "type": "quantitative", "scale": {"domain": [0.10, 0.22], "nice": false}, "axis": {"orient": "left", "values": [0.105,0.135,0.165,0.195], "tickSize": -3.5, "labels": false, "title": null}}}},
{"data": {"values": [{}]}, "mark": {"type": "point", "opacity": 0},
 "encoding": {"x": {"datum": 2451700, "type": "quantitative", "scale": {"domain": [2451196, 2452396], "nice": false}, "axis": {"orient": "bottom", "values": [2451340,2451705,2452070], "tickSize": -7, "labels": false, "title": null}},
  "y": {"datum": 0.15, "type": "quantitative", "scale": {"domain": [0.10, 0.22], "nice": false}, "axis": {"orient": "right", "values": [0.12,0.15,0.18,0.21], "tickSize": -7, "labels": false, "title": null}}}},
{"data": {"values": [{}]}, "mark": {"type": "point", "opacity": 0},
 "encoding": {"x": {"datum": 2451700, "type": "quantitative", "scale": {"domain": [2451196, 2452396], "nice": false}, "axis": {"orient": "bottom", "values": [2451230.5,2451267,2451303.5,2451376.5,2451413,2451449.5,2451486,2451522.5,2451559,2451595.5,2451632,2451668.5,2451741.5,2451778,2451814.5,2451851,2451887.5,2451924,2451960.5,2451997,2452033.5,2452106.5,2452143,2452179.5,2452216,2452252.5,2452289,2452325.5,2452362], "tickSize": -3.5, "labels": false, "title": null}},
  "y": {"datum": 0.15, "type": "quantitative", "scale": {"domain": [0.10, 0.22], "nice": false}, "axis": {"orient": "right", "values": [0.105,0.135,0.165,0.195], "tickSize": -3.5, "labels": false, "title": null}}}}
]
},
{
"width": 376, "height": 138, "data": {"name": "l1"},
"resolve": {"scale": {"x": "independent", "y": "independent"}},
"layer": [
{"mark": {"type": "errorbar", "ticks": false, "thickness": 1.5},
 "encoding": {"x": {"field": "j", "type": "quantitative", "scale": {"domain": [2451196, 2452396], "nice": false}, "axis": null},
  "y": {"field": "v", "type": "quantitative", "scale": {"domain": [1.0, 1.8], "nice": false, "clamp": true}, "axis": null},
  "yError": {"field": "e"},
  "color": {"field": "s", "type": "nominal", "scale": {"domain": ["K","R","B","r","b"], "range": ["#000000","#ff0000","#0000ff","#ff0000","#0000ff"]}, "legend": null}}},
{"mark": {"type": "point", "filled": true, "opacity": 1},
 "encoding": {"x": {"field": "j", "type": "quantitative", "scale": {"domain": [2451196, 2452396], "nice": false}, "axis": null},
  "y": {"field": "v", "type": "quantitative", "scale": {"domain": [1.0, 1.8], "nice": false, "clamp": true}, "axis": null},
  "shape": {"field": "s", "type": "nominal", "scale": {"domain": ["K","R","B","r","b"], "range": ["circle","square","triangle-up","square","triangle-up"]}, "legend": null},
  "fill": {"field": "s", "type": "nominal", "scale": {"domain": ["K","R","B","r","b"], "range": ["transparent","#ff0000","#0000ff","transparent","transparent"]}, "legend": null},
  "stroke": {"field": "s", "type": "nominal", "scale": {"domain": ["K","R","B","r","b"], "range": ["#000000","#ff0000","#0000ff","#ff0000","#0000ff"]}, "legend": null},
  "size": {"field": "s", "type": "nominal", "scale": {"domain": ["K","R","B","r","b"], "range": [30,50,60,28,45]}, "legend": null},
  "strokeWidth": {"field": "s", "type": "nominal", "scale": {"domain": ["K","R","B","r","b"], "range": [1,1,1,1.5,1.5]}, "legend": null}}},
{"data": {"values": [{}]}, "mark": {"type": "text", "align": "left", "baseline": "middle", "fontSize": 20, "font": "Liberation Serif", "color": "#000000", "text": "SBS 1425+606 - Lyα"},
 "encoding": {"x": {"datum": 2451267, "type": "quantitative", "scale": {"domain": [2451196, 2452396], "nice": false}, "axis": null},
  "y": {"datum": 1.152, "type": "quantitative", "scale": {"domain": [1.0, 1.8], "nice": false}, "axis": null}}},
{"data": {"values": [{}]}, "mark": {"type": "point", "opacity": 0},
 "encoding": {"x": {"datum": 2451700, "type": "quantitative", "scale": {"domain": [2451196, 2452396], "nice": false}, "axis": {"orient": "top", "values": [2451340,2451705,2452070], "tickSize": -7, "labelPadding": 17, "labelExpr": "'06-' + (1995 + round((datum.value - 2449880) / 365))", "title": "Month - Year", "titleFontSize": 23, "titlePadding": 1}},
  "y": {"datum": 1.4, "type": "quantitative", "scale": {"domain": [1.0, 1.8], "nice": false}, "axis": {"orient": "right", "values": [1,1.2,1.4,1.6,1.8], "tickSize": -7, "labelPadding": 17, "format": "~g", "title": null}}}},
{"data": {"values": [{}]}, "mark": {"type": "point", "opacity": 0},
 "encoding": {"x": {"datum": 2451700, "type": "quantitative", "scale": {"domain": [2451196, 2452396], "nice": false}, "axis": {"orient": "top", "values": [2451230.5,2451267,2451303.5,2451376.5,2451413,2451449.5,2451486,2451522.5,2451559,2451595.5,2451632,2451668.5,2451741.5,2451778,2451814.5,2451851,2451887.5,2451924,2451960.5,2451997,2452033.5,2452106.5,2452143,2452179.5,2452216,2452252.5,2452289,2452325.5,2452362], "tickSize": -3.5, "labels": false, "title": null}},
  "y": {"datum": 1.4, "type": "quantitative", "scale": {"domain": [1.0, 1.8], "nice": false}, "axis": {"orient": "right", "values": [1.1,1.3,1.5,1.7], "tickSize": -3.5, "labels": false, "title": null}}}},
{"data": {"values": [{}]}, "mark": {"type": "point", "opacity": 0},
 "encoding": {"x": {"datum": 2451700, "type": "quantitative", "scale": {"domain": [2451196, 2452396], "nice": false}, "axis": {"orient": "bottom", "values": [2451340,2451705,2452070], "tickSize": -7, "labels": false, "title": null}},
  "y": {"datum": 1.4, "type": "quantitative", "scale": {"domain": [1.0, 1.8], "nice": false}, "axis": {"orient": "left", "values": [1.2,1.4,1.6], "tickSize": -7, "labels": false, "title": null}}}},
{"data": {"values": [{}]}, "mark": {"type": "point", "opacity": 0},
 "encoding": {"x": {"datum": 2451700, "type": "quantitative", "scale": {"domain": [2451196, 2452396], "nice": false}, "axis": {"orient": "bottom", "values": [2451230.5,2451267,2451303.5,2451376.5,2451413,2451449.5,2451486,2451522.5,2451559,2451595.5,2451632,2451668.5,2451741.5,2451778,2451814.5,2451851,2451887.5,2451924,2451960.5,2451997,2452033.5,2452106.5,2452143,2452179.5,2452216,2452252.5,2452289,2452325.5,2452362], "tickSize": -3.5, "labels": false, "title": null}},
  "y": {"datum": 1.4, "type": "quantitative", "scale": {"domain": [1.0, 1.8], "nice": false}, "axis": {"orient": "left", "values": [1.1,1.3,1.5,1.7], "tickSize": -3.5, "labels": false, "title": null}}}}
]
},
{
"width": 376, "height": 137, "data": {"name": "c2"},
"resolve": {"scale": {"x": "independent", "y": "independent"}},
"layer": [
{"mark": {"type": "errorbar", "ticks": false, "thickness": 1.5},
 "encoding": {"x": {"field": "j", "type": "quantitative", "scale": {"domain": [2451196, 2452396], "nice": false}, "axis": null},
  "y": {"field": "v", "type": "quantitative", "scale": {"domain": [0, 2], "nice": false, "clamp": true}, "axis": null},
  "yError": {"field": "e"},
  "color": {"field": "s", "type": "nominal", "scale": {"domain": ["K","R","B","r","b"], "range": ["#000000","#ff0000","#0000ff","#ff0000","#0000ff"]}, "legend": null}}},
{"mark": {"type": "point", "filled": true, "opacity": 1},
 "encoding": {"x": {"field": "j", "type": "quantitative", "scale": {"domain": [2451196, 2452396], "nice": false}, "axis": null},
  "y": {"field": "v", "type": "quantitative", "scale": {"domain": [0, 2], "nice": false, "clamp": true}, "axis": null},
  "shape": {"field": "s", "type": "nominal", "scale": {"domain": ["K","R","B","r","b"], "range": ["circle","square","triangle-up","square","triangle-up"]}, "legend": null},
  "fill": {"field": "s", "type": "nominal", "scale": {"domain": ["K","R","B","r","b"], "range": ["transparent","#ff0000","#0000ff","transparent","transparent"]}, "legend": null},
  "stroke": {"field": "s", "type": "nominal", "scale": {"domain": ["K","R","B","r","b"], "range": ["#000000","#ff0000","#0000ff","#ff0000","#0000ff"]}, "legend": null},
  "size": {"field": "s", "type": "nominal", "scale": {"domain": ["K","R","B","r","b"], "range": [30,50,60,28,45]}, "legend": null},
  "strokeWidth": {"field": "s", "type": "nominal", "scale": {"domain": ["K","R","B","r","b"], "range": [1,1,1,1.5,1.5]}, "legend": null}}},
{"data": {"values": [{}]}, "mark": {"type": "text", "align": "left", "baseline": "middle", "fontSize": 20, "font": "Liberation Serif", "color": "#000000", "text": "HS 1700+6416 - C IV"},
 "encoding": {"x": {"datum": 2451267, "type": "quantitative", "scale": {"domain": [2451196, 2452396], "nice": false}, "axis": null},
  "y": {"datum": 1.556, "type": "quantitative", "scale": {"domain": [0, 2], "nice": false}, "axis": null}}},
{"data": {"values": [{}]}, "mark": {"type": "point", "opacity": 0},
 "encoding": {"x": {"datum": 2451700, "type": "quantitative", "scale": {"domain": [2451196, 2452396], "nice": false}, "axis": {"orient": "bottom", "values": [2451340,2451705,2452070], "tickSize": -7, "labelPadding": 17, "labelFontSize": 19, "format": "d", "title": "Julian Day", "titleFontSize": 23, "titlePadding": 1}},
  "y": {"datum": 1, "type": "quantitative", "scale": {"domain": [0, 2], "nice": false}, "axis": {"orient": "left", "values": [0,0.5,1,1.5], "tickSize": -7, "labelPadding": 20, "format": "~g", "title": "Line Flux (arbitrary units)", "titleFontSize": 26.5, "titlePadding": 6, "titleY": 27.5}}}},
{"data": {"values": [{}]}, "mark": {"type": "point", "opacity": 0},
 "encoding": {"x": {"datum": 2451700, "type": "quantitative", "scale": {"domain": [2451196, 2452396], "nice": false}, "axis": {"orient": "bottom", "values": [2451230.5,2451267,2451303.5,2451376.5,2451413,2451449.5,2451486,2451522.5,2451559,2451595.5,2451632,2451668.5,2451741.5,2451778,2451814.5,2451851,2451887.5,2451924,2451960.5,2451997,2452033.5,2452106.5,2452143,2452179.5,2452216,2452252.5,2452289,2452325.5,2452362], "tickSize": -3.5, "labels": false, "title": null}},
  "y": {"datum": 1, "type": "quantitative", "scale": {"domain": [0, 2], "nice": false}, "axis": {"orient": "left", "values": [0.25,0.75,1.25,1.75], "tickSize": -3.5, "labels": false, "title": null}}}},
{"data": {"values": [{}]}, "mark": {"type": "point", "opacity": 0},
 "encoding": {"x": {"datum": 2451700, "type": "quantitative", "scale": {"domain": [2451196, 2452396], "nice": false}, "axis": {"orient": "top", "values": [2451340,2451705,2452070], "tickSize": -7, "labels": false, "title": null}},
  "y": {"datum": 1, "type": "quantitative", "scale": {"domain": [0, 2], "nice": false}, "axis": {"orient": "right", "values": [0.5,1,1.5], "tickSize": -7, "labels": false, "title": null}}}},
{"data": {"values": [{}]}, "mark": {"type": "point", "opacity": 0},
 "encoding": {"x": {"datum": 2451700, "type": "quantitative", "scale": {"domain": [2451196, 2452396], "nice": false}, "axis": {"orient": "top", "values": [2451230.5,2451267,2451303.5,2451376.5,2451413,2451449.5,2451486,2451522.5,2451559,2451595.5,2451632,2451668.5,2451741.5,2451778,2451814.5,2451851,2451887.5,2451924,2451960.5,2451997,2452033.5,2452106.5,2452143,2452179.5,2452216,2452252.5,2452289,2452325.5,2452362], "tickSize": -3.5, "labels": false, "title": null}},
  "y": {"datum": 1, "type": "quantitative", "scale": {"domain": [0, 2], "nice": false}, "axis": {"orient": "right", "values": [0.25,0.75,1.25,1.75], "tickSize": -3.5, "labels": false, "title": null}}}}
]
},
{
"width": 376, "height": 137, "data": {"name": "l2"},
"resolve": {"scale": {"x": "independent", "y": "independent"}},
"layer": [
{"mark": {"type": "errorbar", "ticks": false, "thickness": 1.5},
 "encoding": {"x": {"field": "j", "type": "quantitative", "scale": {"domain": [2451196, 2452396], "nice": false}, "axis": null},
  "y": {"field": "v", "type": "quantitative", "scale": {"domain": [0, 0.485], "nice": false, "clamp": true}, "axis": null},
  "yError": {"field": "e"},
  "color": {"field": "s", "type": "nominal", "scale": {"domain": ["K","R","B","r","b"], "range": ["#000000","#ff0000","#0000ff","#ff0000","#0000ff"]}, "legend": null}}},
{"mark": {"type": "point", "filled": true, "opacity": 1},
 "encoding": {"x": {"field": "j", "type": "quantitative", "scale": {"domain": [2451196, 2452396], "nice": false}, "axis": null},
  "y": {"field": "v", "type": "quantitative", "scale": {"domain": [0, 0.485], "nice": false, "clamp": true}, "axis": null},
  "shape": {"field": "s", "type": "nominal", "scale": {"domain": ["K","R","B","r","b"], "range": ["circle","square","triangle-up","square","triangle-up"]}, "legend": null},
  "fill": {"field": "s", "type": "nominal", "scale": {"domain": ["K","R","B","r","b"], "range": ["transparent","#ff0000","#0000ff","transparent","transparent"]}, "legend": null},
  "stroke": {"field": "s", "type": "nominal", "scale": {"domain": ["K","R","B","r","b"], "range": ["#000000","#ff0000","#0000ff","#ff0000","#0000ff"]}, "legend": null},
  "size": {"field": "s", "type": "nominal", "scale": {"domain": ["K","R","B","r","b"], "range": [30,50,60,28,45]}, "legend": null},
  "strokeWidth": {"field": "s", "type": "nominal", "scale": {"domain": ["K","R","B","r","b"], "range": [1,1,1,1.5,1.5]}, "legend": null}}},
{"data": {"values": [{}]}, "mark": {"type": "text", "align": "left", "baseline": "middle", "fontSize": 20, "font": "Liberation Serif", "color": "#000000", "text": "HS 1700+6416 - Lyα"},
 "encoding": {"x": {"datum": 2451272, "type": "quantitative", "scale": {"domain": [2451196, 2452396], "nice": false}, "axis": null},
  "y": {"datum": 0.392, "type": "quantitative", "scale": {"domain": [0, 0.485], "nice": false}, "axis": null}}},
{"data": {"values": [{}]}, "mark": {"type": "point", "opacity": 0},
 "encoding": {"x": {"datum": 2451700, "type": "quantitative", "scale": {"domain": [2451196, 2452396], "nice": false}, "axis": {"orient": "bottom", "values": [2451340,2451705,2452070], "tickSize": -7, "labelPadding": 17, "labelFontSize": 19, "format": "d", "title": "Julian Day", "titleFontSize": 23, "titlePadding": 1}},
  "y": {"datum": 0.2, "type": "quantitative", "scale": {"domain": [0, 0.485], "nice": false}, "axis": {"orient": "right", "values": [0,0.1,0.2,0.3,0.4], "tickSize": -7, "labelPadding": 17, "format": "~g", "title": "Line Flux (arbitrary units)", "titleFontSize": 26.5, "titleAngle": 270, "titleBaseline": "top", "titlePadding": 1, "titleY": 27.5}}}},
{"data": {"values": [{}]}, "mark": {"type": "point", "opacity": 0},
 "encoding": {"x": {"datum": 2451700, "type": "quantitative", "scale": {"domain": [2451196, 2452396], "nice": false}, "axis": {"orient": "bottom", "values": [2451230.5,2451267,2451303.5,2451376.5,2451413,2451449.5,2451486,2451522.5,2451559,2451595.5,2451632,2451668.5,2451741.5,2451778,2451814.5,2451851,2451887.5,2451924,2451960.5,2451997,2452033.5,2452106.5,2452143,2452179.5,2452216,2452252.5,2452289,2452325.5,2452362], "tickSize": -3.5, "labels": false, "title": null}},
  "y": {"datum": 0.2, "type": "quantitative", "scale": {"domain": [0, 0.485], "nice": false}, "axis": {"orient": "right", "values": [0.05,0.15,0.25,0.35,0.45], "tickSize": -3.5, "labels": false, "title": null}}}},
{"data": {"values": [{}]}, "mark": {"type": "point", "opacity": 0},
 "encoding": {"x": {"datum": 2451700, "type": "quantitative", "scale": {"domain": [2451196, 2452396], "nice": false}, "axis": {"orient": "top", "values": [2451340,2451705,2452070], "tickSize": -7, "labels": false, "title": null}},
  "y": {"datum": 0.2, "type": "quantitative", "scale": {"domain": [0, 0.485], "nice": false}, "axis": {"orient": "left", "values": [0.1,0.2,0.3,0.4], "tickSize": -7, "labels": false, "title": null}}}},
{"data": {"values": [{}]}, "mark": {"type": "point", "opacity": 0},
 "encoding": {"x": {"datum": 2451700, "type": "quantitative", "scale": {"domain": [2451196, 2452396], "nice": false}, "axis": {"orient": "top", "values": [2451230.5,2451267,2451303.5,2451376.5,2451413,2451449.5,2451486,2451522.5,2451559,2451595.5,2451632,2451668.5,2451741.5,2451778,2451814.5,2451851,2451887.5,2451924,2451960.5,2451997,2452033.5,2452106.5,2452143,2452179.5,2452216,2452252.5,2452289,2452325.5,2452362], "tickSize": -3.5, "labels": false, "title": null}},
  "y": {"datum": 0.2, "type": "quantitative", "scale": {"domain": [0, 0.485], "nice": false}, "axis": {"orient": "left", "values": [0.05,0.15,0.25,0.35,0.45], "tickSize": -3.5, "labels": false, "title": null}}}}
]
}
],
"columns": 2, "spacing": 0, "bounds": "flush",
"resolve": {"scale": {"x": "independent", "y": "independent"}}
}
],
"config": {
"font": "Liberation Serif",
"background": "#ffffff",
"view": {"stroke": "#000000", "strokeWidth": 2},
"axis": {"grid": false, "domain": false, "ticks": true, "tickColor": "#000000", "tickWidth": 1.5, "labelFont": "Liberation Serif", "labelFontSize": 18, "labelColor": "#000000", "labelFlush": false, "labelOverlap": false, "titleFont": "Liberation Serif", "titleColor": "#000000", "titleFontWeight": "normal"},
"text": {"font": "Liberation Serif", "color": "#000000"}
}
}
